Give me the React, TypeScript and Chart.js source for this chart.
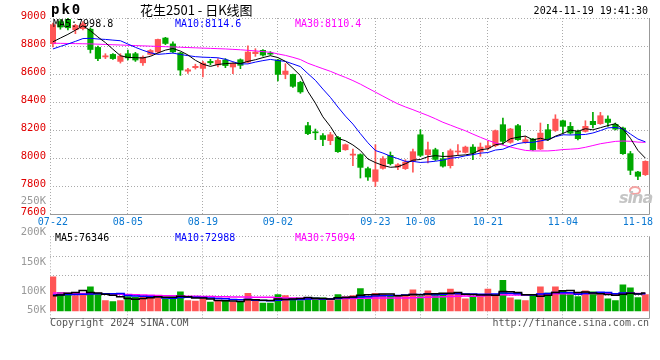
import React, { useEffect, useRef } from "react";
import { Chart, registerables } from "chart.js";
Chart.register(...registerables);

// ---------- data ----------
const dates = [
  "07-22","07-23","07-24","07-25","07-26","07-29","07-30","07-31","08-01","08-02",
  "08-05","08-06","08-07","08-08","08-09","08-12","08-13","08-14","08-15","08-16",
  "08-19","08-20","08-21","08-22","08-23","08-26","08-27","08-28","08-29","08-30",
  "09-02","09-03","09-04","09-05","09-06","09-09","09-10","09-11","09-12","09-13",
  "09-18","09-19","09-20","09-23","09-24","09-25","09-26","09-27","09-30","10-08",
  "10-09","10-10","10-11","10-14","10-15","10-16","10-17","10-18","10-21","10-22",
  "10-23","10-24","10-25","10-28","10-29","10-30","10-31","11-01","11-04","11-05",
  "11-06","11-07","11-08","11-11","11-12","11-13","11-14","11-15","11-18","11-19",
];
const openP = [
  8816, 8975, 8990, 8916, 8924, 8920, 8790, 8722, 8740, 8690,
  8745, 8745, 8680, 8740, 8757, 8857, 8815, 8750, 8620, 8645,
  8640, 8690, 8665, 8700, 8650, 8702, 8685, 8745, 8769, 8748,
  8700, 8597, 8597, 8540, 8231, 8185, 8160, 8124, 8147, 8059,
  8020, 8024, 7924, 7833, 7926, 8019, 7935, 7924, 7976, 8166,
  8024, 8059, 7995, 7945, 8043, 8040, 8078, 8047, 8071, 8088,
  8238, 8112, 8231, 8112, 8135, 8064, 8202, 8197, 8266, 8226,
  8190, 8190, 8262, 8245, 8278, 8240, 8214, 8031, 7900, 7881,
];
const highP = [
  8964, 8990, 9000, 8955, 8975, 8930, 8800, 8745, 8745, 8745,
  8770, 8755, 8730, 8775, 8850, 8862, 8830, 8755, 8640, 8670,
  8690, 8705, 8710, 8710, 8680, 8708, 8802, 8781, 8775, 8760,
  8705, 8674, 8600, 8548, 8254, 8207, 8175, 8183, 8155, 8100,
  8064, 8030, 7935, 8095, 8010, 8043, 7960, 7988, 8064, 8202,
  8114, 8070, 8040, 8064, 8095, 8085, 8095, 8107, 8120, 8200,
  8285, 8212, 8240, 8155, 8140, 8250, 8240, 8309, 8270, 8254,
  8200, 8266, 8326, 8326, 8302, 8250, 8220, 8047, 7905, 7980,
];
const lowP = [
  8793, 8920, 8915, 8888, 8915, 8750, 8695, 8710, 8705, 8678,
  8700, 8690, 8662, 8735, 8750, 8810, 8750, 8590, 8605, 8635,
  8580, 8665, 8650, 8645, 8602, 8638, 8680, 8726, 8728, 8735,
  8550, 8566, 8505, 8462, 8166, 8131, 8088, 8095, 8040, 8055,
  7945, 7857, 7840, 7797, 7920, 7950, 7917, 7918, 7898, 8010,
  7964, 7982, 7935, 7928, 8024, 8035, 7988, 8012, 8060, 8080,
  8095, 8105, 8125, 8105, 8055, 8060, 8125, 8190, 8178, 8170,
  8130, 8185, 8214, 8240, 8226, 8200, 8025, 7881, 7845, 7875,
];
const closeP = [
  8952, 8935, 8930, 8947, 8960, 8775, 8710, 8730, 8710, 8728,
  8715, 8700, 8720, 8768, 8847, 8818, 8758, 8628, 8630, 8655,
  8678, 8680, 8697, 8660, 8674, 8662, 8757, 8757, 8735, 8742,
  8597, 8621, 8512, 8472, 8174, 8180, 8132, 8166, 8045, 8095,
  8028, 7933, 7864, 7916, 7995, 7960, 7952, 7971, 8045, 8019,
  8059, 7990, 7942, 8052, 8050, 8078, 8035, 8078, 8088, 8195,
  8119, 8207, 8131, 8131, 8059, 8178, 8135, 8278, 8226, 8178,
  8138, 8226, 8238, 8302, 8254, 8206, 8031, 7912, 7869, 7976,
];
const volume = [
  145900, 79300, 72300, 65400, 72300, 102900, 72300, 44600, 40400, 44600,
  61200, 58400, 61200, 55700, 65400, 51500, 58400, 82000, 44600, 41800,
  51500, 37600, 44600, 41800, 37600, 37600, 75100, 44600, 33400, 33400,
  69600, 65400, 51500, 44600, 55700, 55700, 55700, 44600, 69600, 61200,
  65400, 95900, 55700, 75100, 69600, 65400, 61200, 65400, 90400, 61200,
  86200, 65400, 72300, 93200, 75100, 51500, 58400, 61200, 93200, 69600,
  130600, 55700, 47300, 44600, 65400, 102900, 76500, 102900, 86200, 69600,
  61200, 86200, 82000, 69600, 51500, 44600, 111200, 98700, 57100, 69600,
];
const ma5Head = [8830, 8857, 8883, 8913];
const ma10Head = [8779, 8797, 8814, 8833, 8853, 8855, 8850, 8847, 8842];
const ma30Head = [
  8820, 8819, 8818, 8817, 8816, 8815, 8813, 8811, 8809, 8807,
  8805, 8803, 8801, 8799, 8797, 8795, 8793, 8791, 8789, 8787,
  8785, 8783, 8781, 8779, 8776, 8773, 8769, 8765, 8760,
];
const volMa5Head = [65000, 68000, 76000, 79000];
const volMa10Head = [68000, 69000, 70000, 70000, 71000, 72000, 73000, 73000, 73000];
const volMa30Head = [
  77000, 76500, 76000, 75500, 75000, 74500, 74000, 73000, 72000, 71000,
  70000, 69000, 68000, 67000, 66000, 65000, 64500, 64000, 63000, 62500,
  62000, 61500, 61000, 60500, 60000, 59500, 59500, 59000, 59000,
];
const dateTickIdx = [0, 10, 20, 30, 43, 49, 58, 68, 78];
const priceTicks = [7600, 7800, 8000, 8200, 8400, 8600, 8800, 9000];
const volLabelTicks: Record<number, string> = { 4000: "50K", 86000: "100K", 208000: "150K" };
const volGridTicks = [66600, 150000, 231000];

// ---------- styles ----------
const RED = "#ff5555";
const GREEN = "#00a800";
const MONO = '"DejaVu Sans Mono", monospace';
const X_MIN = -0.387;
const X_MAX = 79.613;

const framePlugin = {
  id: "frame",
  beforeDatasetsDraw(chart: any) {
    const { ctx, chartArea: a } = chart;
    const l = Math.round(a.left) + 0.5;
    const t = Math.round(a.top) + 0.5;
    const r = Math.round(a.right) - 0.5;
    const b = Math.round(a.bottom) + 0.5;
    ctx.save();
    ctx.lineWidth = 1;
    ctx.strokeStyle = "#aaa";
    ctx.setLineDash([1, 2]);
    ctx.beginPath();
    ctx.moveTo(l, a.top);
    ctx.lineTo(l, a.bottom);
    ctx.moveTo(a.left, t);
    ctx.lineTo(a.right, t);
    ctx.stroke();
    ctx.setLineDash([]);
    ctx.strokeStyle = "#999";
    ctx.beginPath();
    ctx.moveTo(r, a.top);
    ctx.lineTo(r, b);
    ctx.moveTo(a.left, b);
    ctx.lineTo(r, b);
    ctx.stroke();
    ctx.restore();
  },
};

function xAxis(showLabels: boolean) {
  return {
    type: "linear",
    min: X_MIN,
    max: X_MAX,
    offset: false,
    afterBuildTicks: (s: any) => {
      s.ticks = dateTickIdx.map((v) => ({ value: v }));
    },
    afterFit: (s: any) => {
      s.height = showLabels ? 14 : 0;
    },
    grid: {
      offset: false,
      drawTicks: false,
      lineWidth: 1,
      color: (c: any) =>
        c.tick && (c.tick.value === 0 || c.tick.value === 78) ? "rgba(0,0,0,0)" : "#aaa",
    },
    border: { display: false, dash: [1, 2] },
    ticks: {
      display: showLabels,
      autoSkip: false,
      maxRotation: 0,
      padding: 2,
      color: "#0a78d2",
      font: { family: MONO, size: 10 },
      callback: (v: any) => dates[v] ?? "",
    },
  };
}

const txt = (extra: any): any => ({
  position: "absolute",
  fontFamily: MONO,
  fontSize: 10,
  lineHeight: "12px",
  whiteSpace: "nowrap",
  ...extra,
});

export default function App() {
  const pRef = useRef<HTMLCanvasElement>(null);
  const vRef = useRef<HTMLCanvasElement>(null);

  useEffect(() => {
    const idx = dates.map((_, i) => i);
    const col = idx.map((i) => (closeP[i] >= openP[i] ? RED : GREEN));
    const ma = (src: number[], n: number, head: number[]) =>
      idx.map((i) =>
        i < n - 1 ? head[i] : src.slice(i - n + 1, i + 1).reduce((s, v) => s + v, 0) / n
      );
    const pts = (arr: number[]) => idx.map((i) => ({ x: i, y: arr[i] }));
    const line = (data: any, color: string, extra: any = {}) => ({
      type: "line",
      data,
      borderColor: color,
      borderWidth: 1,
      pointRadius: 0,
      tension: 0,
      order: 0,
      ...extra,
    });

    const price = new Chart(pRef.current as HTMLCanvasElement, {
      type: "bar",
      data: {
        datasets: [
          line(pts(ma(closeP, 5, ma5Head)), "#000000"),
          line(pts(ma(closeP, 10, ma10Head)), "#0000ff"),
          line(pts(ma(closeP, 30, ma30Head)), "#ff00ff"),
          {
            type: "bar",
            data: idx.map((i) => ({ x: i, y: [openP[i], closeP[i]] })),
            backgroundColor: col,
            borderWidth: 0,
            barThickness: 5.5,
            grouped: false,
            minBarLength: 1,
            order: 1,
          },
          {
            type: "bar",
            data: idx.map((i) => ({ x: i, y: [lowP[i], highP[i]] })),
            backgroundColor: col,
            borderWidth: 0,
            barThickness: 1,
            grouped: false,
            order: 2,
          },
        ] as any,
      },
      options: {
        animation: false,
        responsive: false,
        devicePixelRatio: 1,
        events: [],
        layout: { padding: { top: 18, right: 10, bottom: 4, left: 0 } },
        plugins: { legend: { display: false }, tooltip: { enabled: false } },
        scales: {
          x: xAxis(true) as any,
          y: {
            type: "linear",
            min: 7600,
            max: 9000,
            afterBuildTicks: (s: any) => {
              s.ticks = priceTicks.map((v) => ({ value: v }));
            },
            afterFit: (s: any) => {
              s.width = 50;
            },
            grid: {
              drawTicks: false,
              color: (c: any) =>
                c.tick && (c.tick.value === 7600 || c.tick.value === 9000)
                  ? "rgba(0,0,0,0)"
                  : "#aaa",
            },
            border: { display: false, dash: [1, 2] },
            ticks: {
              padding: 4,
              labelOffset: -2,
              color: "#e00000",
              font: { family: MONO, size: 10.5 },
              callback: (v: any) => String(v),
            },
          } as any,
        },
      },
      plugins: [framePlugin],
    });

    const vol = new Chart(vRef.current as HTMLCanvasElement, {
      type: "bar",
      data: {
        datasets: [
          line(pts(ma(volume, 5, volMa5Head)), "#000000", { stepped: "middle", borderWidth: 1.5 }),
          line(pts(ma(volume, 10, volMa10Head)), "#0000ff", { stepped: "middle", borderWidth: 1.5 }),
          line(pts(ma(volume, 30, volMa30Head)), "#ff00ff", { stepped: "middle", borderWidth: 1.5 }),
          {
            type: "bar",
            data: pts(volume),
            backgroundColor: col,
            borderWidth: 0,
            barThickness: 6,
            grouped: false,
            order: 1,
          },
        ] as any,
      },
      options: {
        animation: false,
        responsive: false,
        devicePixelRatio: 1,
        events: [],
        layout: { padding: { top: 8, right: 10, bottom: 42, left: 0 } },
        plugins: { legend: { display: false }, tooltip: { enabled: false } },
        scales: {
          x: xAxis(false) as any,
          y: {
            type: "linear",
            min: -30400,
            max: 319500,
            afterBuildTicks: (s: any) => {
              const vals = [...Object.keys(volLabelTicks).map(Number), ...volGridTicks].sort(
                (a, b) => a - b
              );
              s.ticks = vals.map((v) => ({ value: v }));
            },
            afterFit: (s: any) => {
              s.width = 50;
            },
            grid: {
              drawTicks: false,
              color: (c: any) =>
                c.tick && volGridTicks.includes(c.tick.value) ? "#aaa" : "rgba(0,0,0,0)",
            },
            border: { display: false, dash: [1, 2] },
            ticks: {
              padding: 4,
              color: "#999",
              font: { family: MONO, size: 10.5 },
              callback: (v: any) => volLabelTicks[v] ?? "",
            },
          } as any,
        },
      },
      plugins: [framePlugin],
    });

    return () => {
      price.destroy();
      vol.destroy();
    };
  }, []);

  return (
    <div
      style={{
        position: "fixed",
        left: 0,
        top: 0,
        width: 660,
        height: 360,
        background: "#fff",
        overflow: "hidden",
      }}
    >
      <canvas ref={pRef} width={660} height={232} style={{ position: "absolute", left: 0, top: 0 }} />
      <canvas ref={vRef} width={660} height={134} style={{ position: "absolute", left: 0, top: 226 }} />

      <div style={txt({ left: 51, top: 2, fontSize: 14, lineHeight: "14px", fontWeight: "bold", letterSpacing: 2, color: "#000" })}>
        pk0
      </div>
      <div style={txt({ left: 140, top: 3, fontSize: 13, lineHeight: "13px", fontFamily: '"Noto Sans CJK SC", sans-serif', color: "#000" })}>
        花生2501 - 日K线图
      </div>
      <div style={txt({ right: 12, top: 5, color: "#000" })}>2024-11-19 19:41:30</div>

      <div style={txt({ left: 53, top: 18, color: "#000" })}>MA5:7998.8</div>
      <div style={txt({ left: 175, top: 18, color: "#0000ff" })}>MA10:8114.6</div>
      <div style={txt({ left: 295, top: 18, color: "#ff00ff" })}>MA30:8110.4</div>

      <div style={txt({ right: 614, top: 194, color: "#999", fontSize: 10.5 })}>250K</div>
      <div style={txt({ right: 614, top: 225, color: "#999", fontSize: 10.5 })}>200K</div>

      <div style={txt({ left: 55, top: 232, color: "#000" })}>MA5:76346</div>
      <div style={txt({ left: 175, top: 232, color: "#0000ff" })}>MA10:72988</div>
      <div style={txt({ left: 295, top: 232, color: "#ff00ff" })}>MA30:75094</div>

      <div style={txt({ left: 50, top: 317, color: "#555" })}>Copyright 2024 SINA.COM</div>
      <div style={txt({ right: 11, top: 317, color: "#555" })}>http://finance.sina.com.cn</div>

      <div
        style={{
          position: "absolute",
          left: 629,
          top: 186,
          width: 8,
          height: 5,
          border: "2px solid #f3a3a3",
          borderRadius: "50%",
        }}
      />
      <div
        style={txt({
          left: 619,
          top: 190,
          fontFamily: '"DejaVu Sans", sans-serif',
          fontSize: 16,
          lineHeight: "16px",
          fontStyle: "italic",
          fontWeight: "bold",
          letterSpacing: -1,
          color: "#c4c4c4",
        })}
      >
        sina
      </div>
    </div>
  );
}
